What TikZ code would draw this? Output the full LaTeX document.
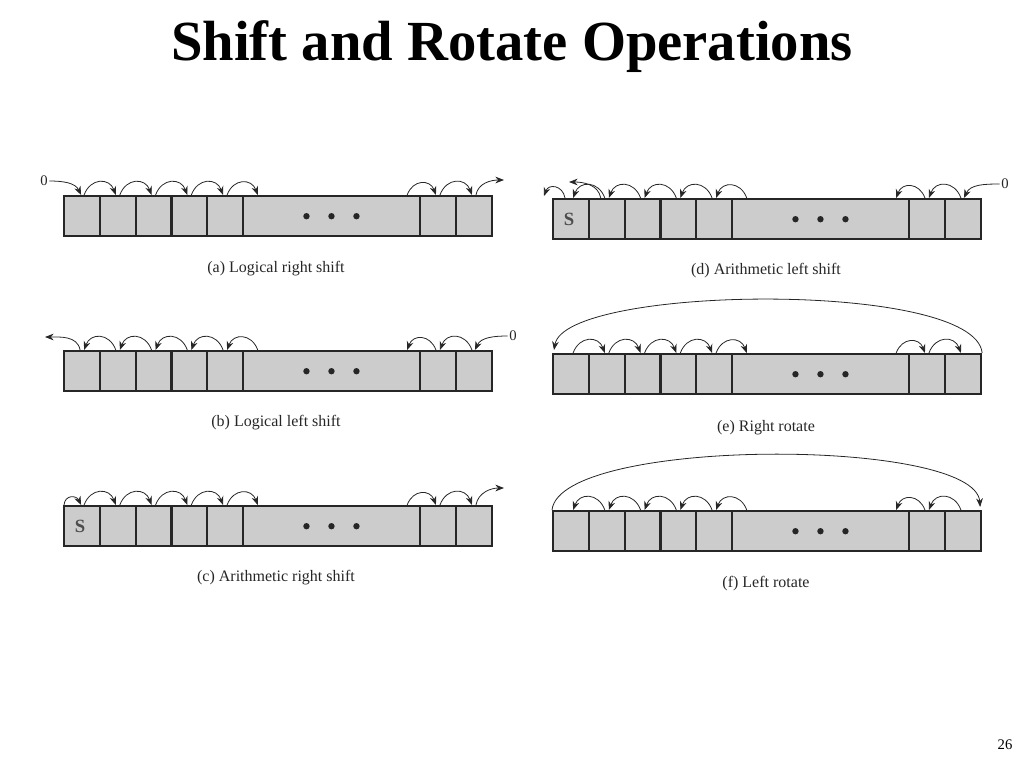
\documentclass[tikz,border=0pt]{standalone}
\usepackage{fontspec}
\setmainfont{Liberation Serif}
\usetikzlibrary{arrows.meta,calc}
\tikzset{
  cell/.style={draw=black!85, fill=black!20, line width=1.8pt, inner sep=0pt, anchor=north west, minimum height=30pt},
  arc/.style={-{Stealth[length=6.5pt,width=5pt]}, line width=0.6pt, black!85},
  hop/.style={out=#1, in=180-#1, looseness=1.5},
  captxt/.style={font=\fontsize{12}{14}\selectfont, text=black!85},
  lbl/.style={font=\fontsize{11}{12}\selectfont, text=black!85, inner sep=1pt}
}
\newcommand\reg[3]{%
  \foreach \i/\off/\w in {1/0/35.75,2/35.75/35.75,3/71.5/35.75,4/107.25/35.75,5/143/35.75,6/178.75/177,7/355.75/36,8/391.75/36}{
    \node[cell, minimum width=\w*0.75pt] (#1\i) at (#2+\off,-#3) {};}
  \foreach \d in {-25,0,25}{\fill[black!85] ($(#16.center)+(\d,0)$) circle (3.2);}
}
\newcommand\rarcs[1]{%
  \foreach \i/\j in {1/2,2/3,3/4,4/5}{
    \draw[arc] ($(#1\i.north)+(2,0)$) to[hop=70] ($(#1\j.north)+(-2,0)$);}
  \draw[arc] ($(#15.north)+(2,0)$) to[hop=70] ($(#16.north west)+(16,0)$);
  \draw[arc] ($(#16.north east)+(-14,0)$) to[hop=70] ($(#17.north)+(-2,0)$);
  \draw[arc] ($(#17.north)+(2,0)$) to[hop=70] ($(#18.north)+(-2,0)$);
}
\newcommand\larcs[1]{%
  \foreach \i/\j in {1/2,2/3,3/4,4/5}{
    \draw[arc] ($(#1\j.north)+(-2,0)$) to[hop=110] ($(#1\i.north)+(2,0)$);}
  \draw[arc] ($(#16.north west)+(16,0)$) to[hop=110] ($(#15.north)+(2,0)$);
  \draw[arc] ($(#17.north)+(-2,0)$) to[hop=110] ($(#16.north east)+(-14,0)$);
  \draw[arc] ($(#18.north)+(-2,0)$) to[hop=110] ($(#17.north)+(2,0)$);
}
\begin{document}
\begin{tikzpicture}[x=0.75pt,y=0.75pt]
\useasboundingbox (0,0) rectangle (1024,-768);
\node[font=\bfseries\fontsize{42.5}{46}\selectfont] (title) at (512,-47) {Shift and Rotate Operations};
\node[font=\fontsize{11}{12}\selectfont] (pg) at (1005,-745) {26};
% (a)
\reg{a}{63}{195}
\rarcs{a}
\node[lbl] (a0) at (44,-181) {0};
\draw[arc] (a0.east) to[out=0,in=115] ($(a1.north)+(-1,0)$);
\coordinate (aout) at (504,-180);
\draw[arc] ($(a8.north)+(2,0)$) to[out=80,in=180] (aout);
\node[captxt] (ca) at (276,-269) {(a) Logical right shift};
% (b)
\reg{b}{63}{350}
\larcs{b}
\node[lbl] (b0) at (513,-336) {0};
\draw[arc] (b0.west) to[out=180,in=65] ($(b8.north)+(1,0)$);
\coordinate (bout) at (45,-337);
\draw[arc] ($(b1.north)+(-2,0)$) to[out=100,in=0] (bout);
\node[captxt] (cb) at (276,-423) {(b) Logical left shift};
% (c)
\reg{c}{63}{505}
\node[font=\bfseries\fontsize{14}{14}\selectfont, text=black!70] at ($(c1.center)+(-2,0)$) {S};
\rarcs{c}
\draw[arc] ($(c1.north west)+(1,0)$) to[out=85,in=115,looseness=1.6] ($(c1.north)+(-1,0)$);
\coordinate (cout) at (504,-488);
\draw[arc] ($(c8.north)+(2,0)$) to[out=80,in=180] (cout);
\node[captxt] (cc) at (276,-578) {(c) Arithmetic right shift};
% (d)
\reg{d}{552}{198}
\node[font=\bfseries\fontsize{14}{14}\selectfont, text=black!70] at ($(d1.center)+(-2,0)$) {S};
\larcs{d}
\node[lbl] (d0) at (1005,-184) {0};
\draw[arc] (d0.west) to[out=180,in=65] ($(d8.north)+(1,0)$);
\coordinate (dself) at (544,-196);
\draw[arc] ($(d1.north west)+(13,0)$) to[out=100,in=70,looseness=1.6] (dself);
\coordinate (dout) at (569,-182);
\draw[arc] ($(d2.north west)+(13,0)$) to[out=100,in=0] (dout);
\node[captxt] (cd) at (766,-271) {(d) Arithmetic left shift};
% (e)
\reg{e}{552}{353}
\rarcs{e}
\draw[arc] (e8.north east) .. controls (975,-280) and (565,-285) .. ($(e1.north west)+(2,3)$);
\node[captxt] (ce) at (766,-428) {(e) Right rotate};
% (f)
\reg{f}{552}{510}
\larcs{f}
\draw[arc] (f1.north west) .. controls (560,-437) and (975,-437) .. ($(f8.north east)+(-2,3)$);
\node[captxt] (cf) at (766,-584) {(f) Left rotate};
\end{tikzpicture}
\end{document}
